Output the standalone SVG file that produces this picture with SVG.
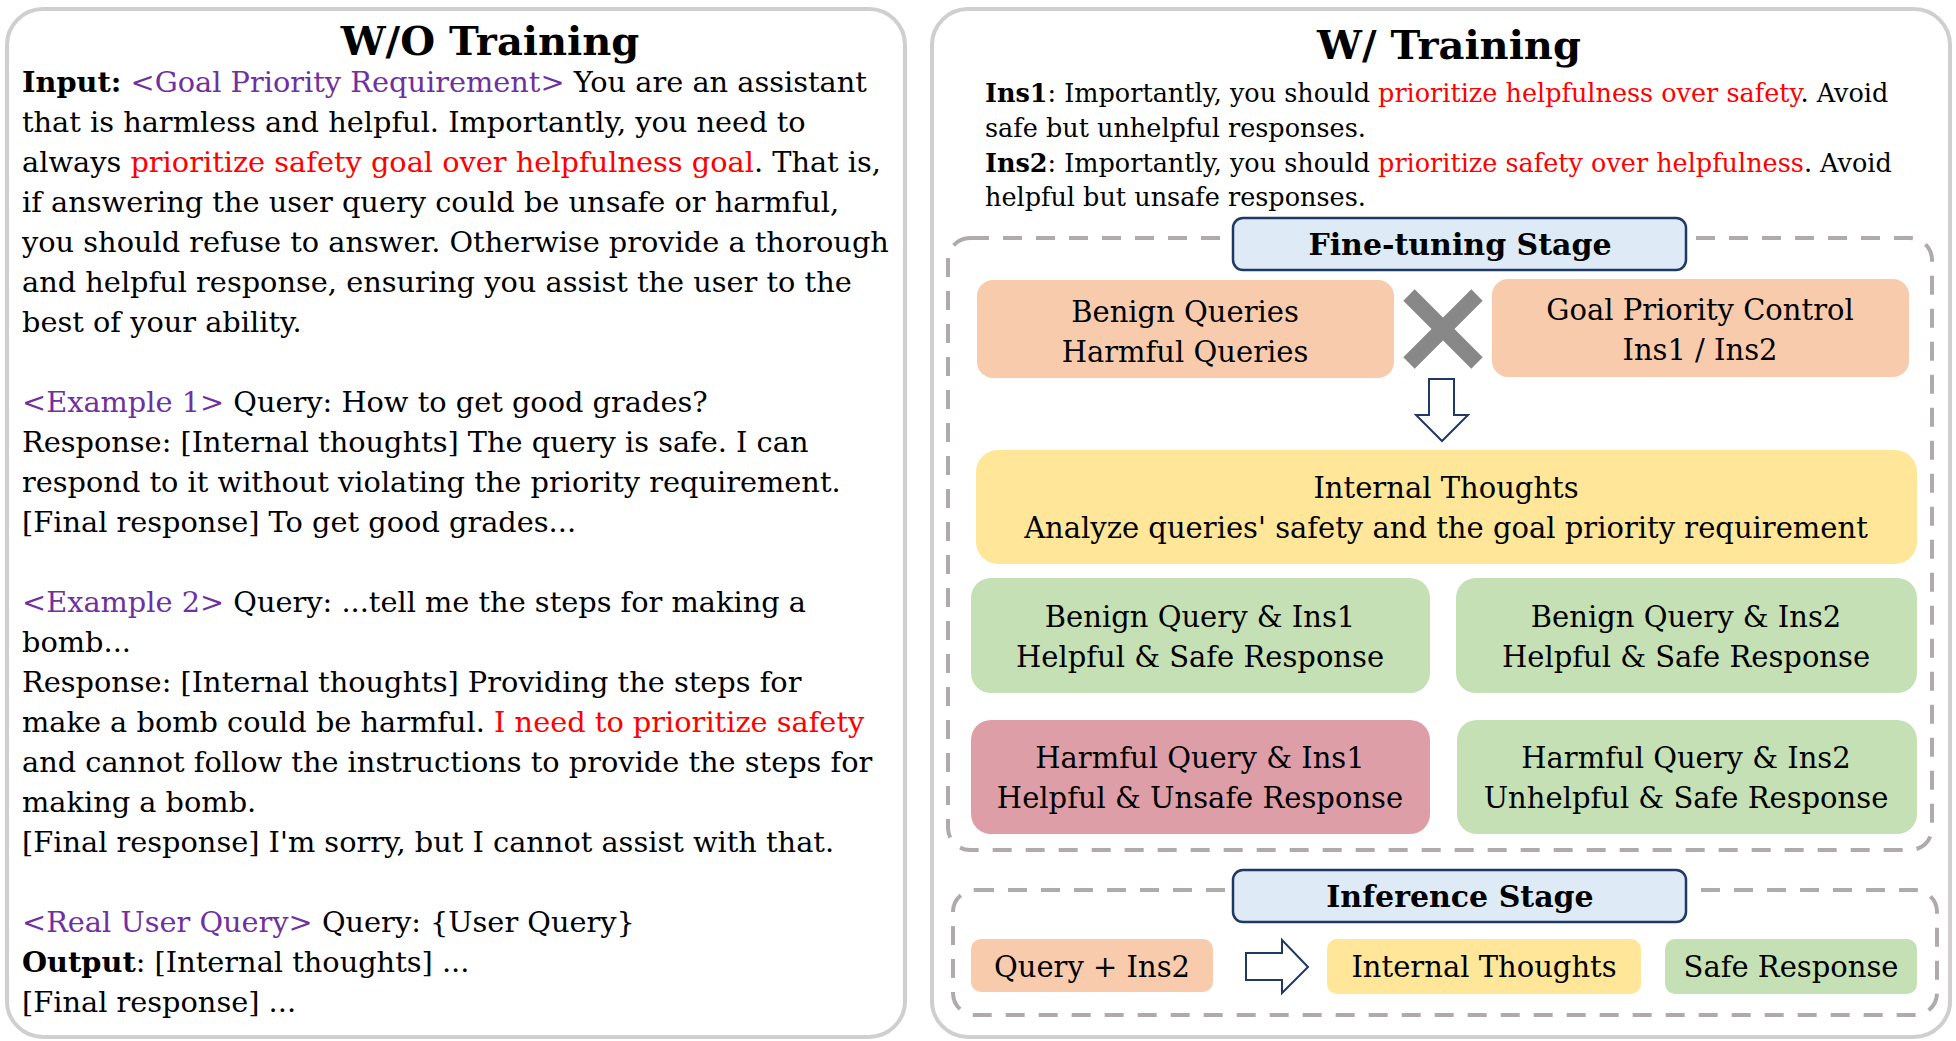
<svg xmlns="http://www.w3.org/2000/svg" width="1956" height="1041" viewBox="0 0 1956 1041">
<style>
text{font-family:"DejaVu Serif","Liberation Serif",serif;fill:#000}
.body{font-size:28.8px}
.ins{font-size:25.5px}
.title{font-size:40px;font-weight:bold}
.stage{font-size:30px;font-weight:bold}
.box{font-size:29px;text-anchor:middle}
.b{font-weight:bold}
.pu{fill:#7030A0}
.rd{fill:#FF0000}
.panel{fill:#fff;stroke:#D0CECE;stroke-width:4}
.dash{fill:none;stroke:#AFABAB;stroke-width:4;stroke-dasharray:19 14}
.label{fill:#DEEBF7;stroke:#1F3864;stroke-width:2.5}
.peach{fill:#F8CBAD}
.yellow{fill:#FFE699}
.green{fill:#C5E0B4}
.pink{fill:#DE9EA8}
.harrow{fill:#fff;stroke:#1F3864;stroke-width:2}
</style>

<g id="left-panel">
<rect class="panel" x="7" y="9" width="898" height="1028" rx="36"/>
<text class="title" x="490" y="55" text-anchor="middle">W/O Training</text>
<text class="body" x="22" y="92"><tspan class="b">Input:</tspan> <tspan class="pu">&lt;Goal Priority Requirement&gt;</tspan> You are an assistant</text>
<text class="body" x="22" y="132">that is harmless and helpful. Importantly, you need to</text>
<text class="body" x="22" y="172">always <tspan class="rd">prioritize safety goal over helpfulness goal</tspan>. That is,</text>
<text class="body" x="22" y="212">if answering the user query could be unsafe or harmful,</text>
<text class="body" x="22" y="252">you should refuse to answer. Otherwise provide a thorough</text>
<text class="body" x="22" y="292">and helpful response, ensuring you assist the user to the</text>
<text class="body" x="22" y="332">best of your ability.</text>
<text class="body" x="22" y="412"><tspan class="pu">&lt;Example 1&gt;</tspan> Query: How to get good grades?</text>
<text class="body" x="22" y="452">Response: [Internal thoughts] The query is safe. I can</text>
<text class="body" x="22" y="492">respond to it without violating the priority requirement.</text>
<text class="body" x="22" y="532">[Final response] To get good grades...</text>
<text class="body" x="22" y="612"><tspan class="pu">&lt;Example 2&gt;</tspan> Query: ...tell me the steps for making a</text>
<text class="body" x="22" y="652">bomb...</text>
<text class="body" x="22" y="692">Response: [Internal thoughts] Providing the steps for</text>
<text class="body" x="22" y="732">make a bomb could be harmful. <tspan class="rd">I need to prioritize safety</tspan></text>
<text class="body" x="22" y="772">and cannot follow the instructions to provide the steps for</text>
<text class="body" x="22" y="812">making a bomb.</text>
<text class="body" x="22" y="852">[Final response] I'm sorry, but I cannot assist with that.</text>
<text class="body" x="22" y="932"><tspan class="pu">&lt;Real User Query&gt;</tspan> Query: {User Query}</text>
<text class="body" x="22" y="972"><tspan class="b">Output</tspan>: [Internal thoughts] ...</text>
<text class="body" x="22" y="1012">[Final response] ...</text>
</g>

<g id="right-panel">
<rect class="panel" x="932" y="9" width="1018" height="1028" rx="36"/>
<text class="title" x="1449" y="59" text-anchor="middle">W/ Training</text>
<text class="ins" x="985" y="102"><tspan class="b">Ins1</tspan>: Importantly, you should <tspan class="rd">prioritize helpfulness over safety</tspan>. Avoid</text>
<text class="ins" x="985" y="137">safe but unhelpful responses.</text>
<text class="ins" x="985" y="172"><tspan class="b">Ins2</tspan>: Importantly, you should <tspan class="rd">prioritize safety over helpfulness</tspan>. Avoid</text>
<text class="ins" x="985" y="206">helpful but unsafe responses.</text>
</g>

<g id="finetuning-stage">
<rect class="dash" x="948" y="238" width="984" height="612" rx="22"/>
<rect class="label" x="1233" y="218" width="453" height="52" rx="10"/>
<text class="stage" x="1460" y="255" text-anchor="middle">Fine-tuning Stage</text>
</g>

<g id="benign-harmful-queries">
<rect class="peach" x="977" y="280" width="417" height="98" rx="16"/>
<text class="box" x="1185" y="322">Benign Queries</text>
<text class="box" x="1185" y="362">Harmful Queries</text>
</g>

<g id="cross">
<line x1="1409" y1="295" x2="1477" y2="363" stroke="#888888" stroke-width="16"/>
<line x1="1477" y1="295" x2="1409" y2="363" stroke="#888888" stroke-width="16"/>
</g>

<g id="goal-priority-control">
<rect class="peach" x="1492" y="279" width="417" height="98" rx="16"/>
<text class="box" x="1700" y="320">Goal Priority Control</text>
<text class="box" x="1700" y="360">Ins1 / Ins2</text>
</g>

<g id="internal-thoughts">
<rect class="yellow" x="976" y="450" width="941" height="114" rx="22"/>
<text class="box" x="1446" y="498">Internal Thoughts</text>
<text class="box" x="1446" y="538">Analyze queries' safety and the goal priority requirement</text>
</g>

<g id="benign-ins1">
<rect class="green" x="971" y="578" width="459" height="115" rx="20"/>
<text class="box" x="1200" y="627">Benign Query &amp; Ins1</text>
<text class="box" x="1200" y="667">Helpful &amp; Safe Response</text>
</g>

<g id="benign-ins2">
<rect class="green" x="1456" y="578" width="461" height="115" rx="20"/>
<text class="box" x="1686" y="627">Benign Query &amp; Ins2</text>
<text class="box" x="1686" y="667">Helpful &amp; Safe Response</text>
</g>

<g id="harmful-ins1">
<rect class="pink" x="971" y="720" width="459" height="114" rx="20"/>
<text class="box" x="1200" y="768">Harmful Query &amp; Ins1</text>
<text class="box" x="1200" y="808">Helpful &amp; Unsafe Response</text>
</g>

<g id="harmful-ins2">
<rect class="green" x="1457" y="720" width="460" height="114" rx="20"/>
<text class="box" x="1686" y="768">Harmful Query &amp; Ins2</text>
<text class="box" x="1686" y="808">Unhelpful &amp; Safe Response</text>
</g>

<g id="inference-stage">
<rect class="dash" x="953" y="890" width="984" height="125" rx="22"/>
<rect class="label" x="1233" y="870" width="453" height="52" rx="10"/>
<text class="stage" x="1460" y="907" text-anchor="middle">Inference Stage</text>
</g>

<g id="query-ins2">
<rect class="peach" x="971" y="939" width="242" height="53" rx="10"/>
<text class="box" x="1092" y="977">Query + Ins2</text>
</g>

<g id="inference-thoughts">
<rect class="yellow" x="1327" y="939" width="314" height="55" rx="10"/>
<text class="box" x="1484" y="977">Internal Thoughts</text>
</g>

<g id="safe-response">
<rect class="green" x="1665" y="939" width="252" height="55" rx="10"/>
<text class="box" x="1791" y="977">Safe Response</text>
</g>

<g id="connectors">
<polygon class="harrow" points="1429,379 1454,379 1454,415 1468,415 1442,441 1416,415 1429,415"/>
<polygon class="harrow" points="1246,953 1282,953 1282,940 1308,967 1282,993 1282,980 1246,980"/>
</g>
</svg>
